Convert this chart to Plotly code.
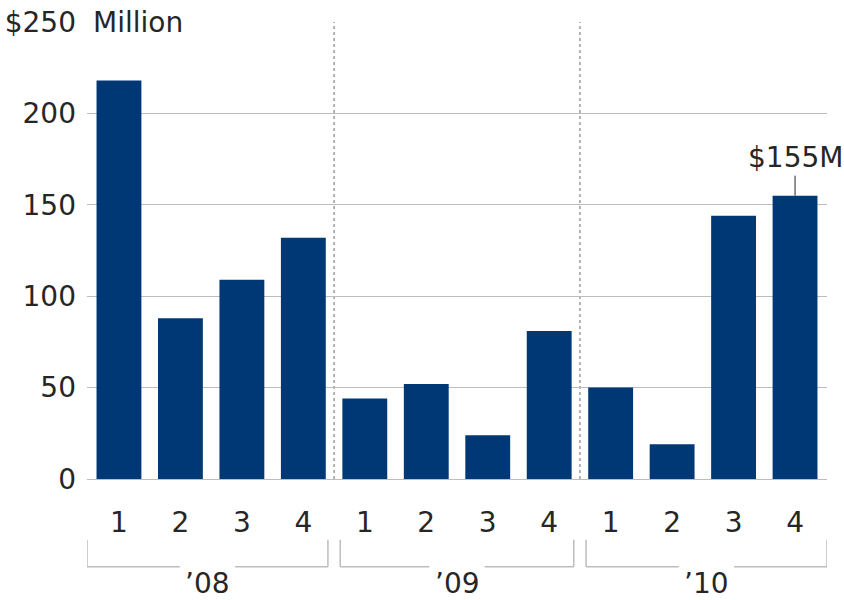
import plotly.graph_objects as go

# Quarterly values, in millions of dollars
quarters = ["1", "2", "3", "4"] * 3
years = ["\u201908", "\u201909", "\u201910"]
revenue = [218, 88, 109, 132, 44, 52, 24, 81, 50, 19, 144, 155]
y_ticks = [0, 50, 100, 150, 200, 250]
y_labels = ["0", "50", "100", "150", "200", "$250"]
unit_label = "Million"

FONT = "DejaVu Sans"
INK = "#262626"
BAR = "#003876"
GRID = "#bdbdbd"
DOTS = "#9c9c9c"

idx = list(range(len(revenue)))
x_lo, x_hi = -0.52, 11.52

fig = go.Figure(
    go.Bar(x=idx, y=revenue, marker_color=BAR, marker_line_width=0, width=0.73,
           hoverinfo="skip")
)

fig.update_layout(
    width=844, height=600,
    margin=dict(l=87, r=17, t=22, b=121),
    plot_bgcolor="white", paper_bgcolor="white",
    showlegend=False,
    font=dict(family=FONT, size=28, color=INK),
)
fig.update_xaxes(
    range=[x_lo, x_hi], tickvals=idx, ticktext=quarters,
    showgrid=False, zeroline=False, showline=False, ticks="",
    ticklabelstandoff=24, automargin=False,
)
fig.update_yaxes(
    range=[0, 250], tickvals=y_ticks, ticktext=y_labels,
    showgrid=True, gridcolor=GRID, gridwidth=1,
    zeroline=True, zerolinecolor=GRID, zerolinewidth=1,
    showline=False, ticks="", ticklabelstandoff=10, automargin=False,
)

# Dotted dividers between years
for g in (1, 2):
    sep = 4 * g - 0.5
    fig.add_shape(type="line", xref="x", yref="y", x0=sep, x1=sep, y0=0, y1=250,
                  line=dict(color=DOTS, width=1.5, dash="dot"), layer="below")

# Year brackets below the quarter labels
y_top, y_bot, y_lab = -0.133, -0.192, -0.228
half_gap = 0.45
bracket = dict(color=GRID, width=1.5)
for g, yr in enumerate(years):
    start = x_lo if g == 0 else 4 * g - 0.5 + 0.1
    end = x_hi if g == len(years) - 1 else 4 * g + 3.5 - 0.1
    mid = (start + end) / 2
    for xv in (start, end):
        fig.add_shape(type="line", xref="x", yref="paper", x0=xv, x1=xv,
                      y0=y_top, y1=y_bot, line=bracket)
    fig.add_shape(type="line", xref="x", yref="paper", x0=start, x1=mid - half_gap,
                  y0=y_bot, y1=y_bot, line=bracket)
    fig.add_shape(type="line", xref="x", yref="paper", x0=mid + half_gap, x1=end,
                  y0=y_bot, y1=y_bot, line=bracket)
    fig.add_annotation(x=mid, y=y_lab, xref="x", yref="paper", text=yr,
                       showarrow=False, yanchor="middle")

# Unit label next to the top tick, masking the start of the gridline
fig.add_annotation(x=x_lo, y=250, xref="x", yref="y", text=unit_label + "\u00a0",
                   showarrow=False, xanchor="left", yanchor="middle",
                   bgcolor="white", borderpad=5)

# Callout on the latest quarter
fig.add_annotation(x=idx[-1], y=revenue[-1], xref="x", yref="y",
                   text=f"${revenue[-1]}M", showarrow=True, arrowhead=0,
                   arrowwidth=1, arrowcolor=INK, ax=0, ay=-38, standoff=0)

fig.write_html("out.html")
